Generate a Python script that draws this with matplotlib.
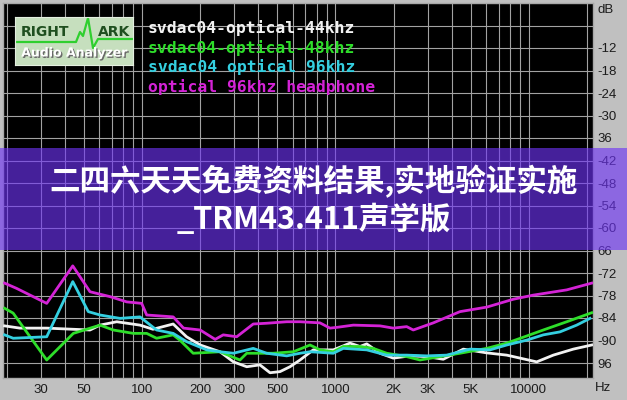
import matplotlib
matplotlib.use("Agg")
import matplotlib.pyplot as plt
from matplotlib.patches import Rectangle
from matplotlib.ticker import NullLocator
import matplotlib.patheffects as pe

W, H = 627, 400

# curves, frequency in Hz, level in dB
freq_44 = [19.5, 23.4, 32.2, 53.9, 60.7, 74.1, 97.7, 114, 145, 170,
           200, 253, 297, 348, 407, 459, 517, 582, 656, 768,
           975, 1189, 1339, 1451, 1699, 1990, 2428, 2963, 3608, 4578,
           6050, 7674, 10970, 13360, 16950, 21100]
db_44 = [-86.1, -86.7, -86.7, -87.2, -85.9, -85.0, -85.9, -87.0, -85.6, -89.0,
         -91.2, -93.0, -95.7, -97.0, -96.5, -98.6, -98.3, -97.0, -95.2, -92.5,
         -92.5, -90.7, -91.6, -90.9, -93.4, -94.7, -94.1, -94.3, -95.0, -92.3,
         -93.3, -93.9, -95.7, -93.9, -92.3, -91.2]

freq_48 = [19.5, 21.6, 26.4, 32.2, 44.2, 60.7, 71.1, 90.2, 105.8, 119,
           145, 157, 184, 253, 321, 348, 477, 606, 739, 832,
           975, 1098, 1339, 1569, 1840, 2334, 2735, 3470, 4402, 6050,
           7674, 9736, 11860, 15680, 21100]
db_48 = [-81.4, -82.7, -89.0, -95.2, -88.1, -85.9, -87.2, -88.1, -88.1, -89.4,
         -88.5, -89.9, -93.4, -93.0, -95.2, -93.4, -93.4, -93.0, -91.2, -92.5,
         -93.0, -91.6, -91.6, -92.1, -93.4, -94.3, -95.2, -94.3, -93.4, -92.1,
         -90.7, -88.8, -87.2, -85.0, -82.6]

freq_96 = [19.5, 21.6, 32.2, 43.9, 52.8, 60.7, 77.0, 97.7, 119, 145,
           170, 216, 253, 297, 376, 441, 560, 656, 739, 975,
           1098, 1451, 1840, 2334, 2963, 3758, 4960, 6292, 7674, 9736,
           11860, 14470, 17650, 20680]
db_96 = [-88.5, -89.4, -89.0, -74.3, -82.3, -83.2, -84.1, -83.7, -87.2, -88.1,
         -90.3, -92.5, -93.0, -93.4, -92.1, -93.4, -94.1, -93.4, -93.0, -93.4,
         -92.1, -92.5, -93.9, -93.9, -94.1, -93.9, -92.3, -92.5, -91.2, -89.9,
         -88.5, -87.7, -85.9, -84.1]

freq_hp = [19.5, 22.5, 32.2, 43.9, 53.9, 68.4, 83.4, 99.7, 105.8, 145,
           164, 200, 239, 263, 309, 376, 441, 560, 656, 832,
           937, 1015, 1237, 1699, 1990, 2334, 2525, 3204, 4402, 6050,
           8300, 10530, 15680, 21100]
db_hp = [-74.7, -76.1, -80.1, -70.1, -77.0, -78.3, -79.7, -80.1, -83.2, -83.7,
         -86.7, -87.2, -89.7, -88.5, -89.0, -85.6, -85.4, -85.0, -85.0, -85.3,
         -86.7, -86.5, -85.9, -86.1, -86.7, -86.3, -87.2, -85.3, -82.3, -81.1,
         -79.0, -77.9, -76.5, -74.7]

labels = ["svdac04-optical-44khz", "svdac04-optical-48khz",
          "svdac04 optical 96khz", "optical 96khz headphone"]
colors = ["#f2f2f2", "#2ede2a", "#34cfe0", "#d423d6"]

xtick_vals = [30, 50, 100, 200, 300, 500, 1000, 2000, 3000, 5000, 10000]
xtick_labels = ["30", "50", "100", "200", "300", "500", "1000", "2K", "3K", "5K", "10000"]
ytick_vals = [-12, -18, -24, -30, -36, -42, -48, -54, -60, -66, -72, -78, -84, -90, -96]
ytick_labels = ["-12", "-18", "-24", "-30", "36", "-42", "-48", "-54", "-60", "66",
                "-72", "-78", "-84", "-90", "96"]

title_1 = "二四六天天免费资料结果,实地验证实施"
title_2 = "_TRM43.411声学版"


def px(x, y):
    # pixel position in the 627x400 picture -> figure fraction
    return x / W, 1 - y / H


fig = plt.figure(figsize=(W / 100, H / 100), dpi=100, facecolor="#c0c0c0")
ax = fig.add_axes([3 / W, 1 - 378 / H, 590 / W, 375 / H])
ax.set_facecolor("black")
ax.set_xscale("log")
ax.set_xlim(19.14, 21430)
ax.set_ylim(-100, 0)

# grid: every 1..9 x decade, every 6 dB
grid_f = [m * 10 ** e for e in range(1, 5) for m in range(1, 10)]
for f in grid_f:
    if 20 <= f <= 20000:
        ax.axvline(f, color="#a2a2a2", lw=0.8, zorder=1)
for d in range(-6, -100, -6):
    ax.axhline(d, color="#a2a2a2", lw=0.8, zorder=1)

series = [(freq_44, db_44), (freq_48, db_48), (freq_96, db_96), (freq_hp, db_hp)]
for (f, d), c in zip(series, colors):
    ax.plot(f, d, color=c, lw=2.0, zorder=3, solid_joinstyle="round")

ax.xaxis.set_minor_locator(NullLocator())
ax.set_xticks(xtick_vals, xtick_labels)
ax.yaxis.tick_right()
ax.set_yticks(ytick_vals, ytick_labels)
ax.tick_params(axis="x", length=0, pad=4, labelsize=9.5, labelcolor="#1c1c1c")
ax.tick_params(axis="y", length=0, pad=3, labelsize=9.5, labelcolor="#1c1c1c")
for lab in ax.get_xticklabels() + ax.get_yticklabels():
    lab.set_family("Liberation Sans")
for s in ax.spines.values():
    s.set_color("#a8a8a8")
    s.set_linewidth(1)

fig.text(*px(597, 10), "dB", ha="left", va="center", fontsize=9.5,
         family="Liberation Sans", color="#1c1c1c")
fig.text(*px(603, 388), "Hz", ha="center", va="center", fontsize=9.5,
         family="Liberation Sans", color="#1c1c1c")

# legend text, top left
for i, (lab, c) in enumerate(zip(labels, colors)):
    fig.text(*px(148, 28 + i * 19.7), lab, ha="left", va="center", fontsize=11.8,
             family="DejaVu Sans Mono", fontweight="bold", color=c)

# RightMark logo
logo = fig.add_axes([15 / W, 1 - 65 / H, 118 / W, 48 / H])
logo.set_xlim(0, 118)
logo.set_ylim(48, 0)
logo.set_facecolor("#c6dfbe")
for s in logo.spines.values():
    s.set_color("#e4efe0")
logo.set_xticks([])
logo.set_yticks([])
wave_x = [2, 61, 65, 68, 73, 78, 83, 117]
wave_y = [25, 25, 15, 19, 1, 31, 22, 22]
logo.plot(wave_x, wave_y, color="#2fcf2f", lw=1.6)
logo.text(30, 15, "RIGHT", ha="center", va="center", fontsize=10,
          fontweight="bold", color="#1f4f1f")
logo.text(99, 15, "ARK", ha="center", va="center", fontsize=10,
          fontweight="bold", color="#1f4f1f")
logo.text(59, 36, "Audio Analyzer", ha="center", va="center", fontsize=9,
          fontweight="bold", color="white",
          path_effects=[pe.withSimplePatchShadow(offset=(1, -1), shadow_rgbFace="#6a6a6a", alpha=1)])

# purple banner on top
band = Rectangle(px(0, 250), 1, 102 / H, transform=fig.transFigure,
                 facecolor=(0.43, 0.2, 0.96), alpha=0.63, zorder=10)
fig.add_artist(band)
fam = ["Noto Sans CJK SC", "DejaVu Sans"]
fig.text(*px(314, 182), title_1, ha="center", va="center", fontsize=22,
         fontweight="bold", family=fam, color="white", zorder=11)
fig.text(*px(314, 220), title_2, ha="center", va="center", fontsize=22,
         fontweight="bold", family=fam, color="white", zorder=11)

fig.savefig("out.png", dpi=100, facecolor=fig.get_facecolor())
